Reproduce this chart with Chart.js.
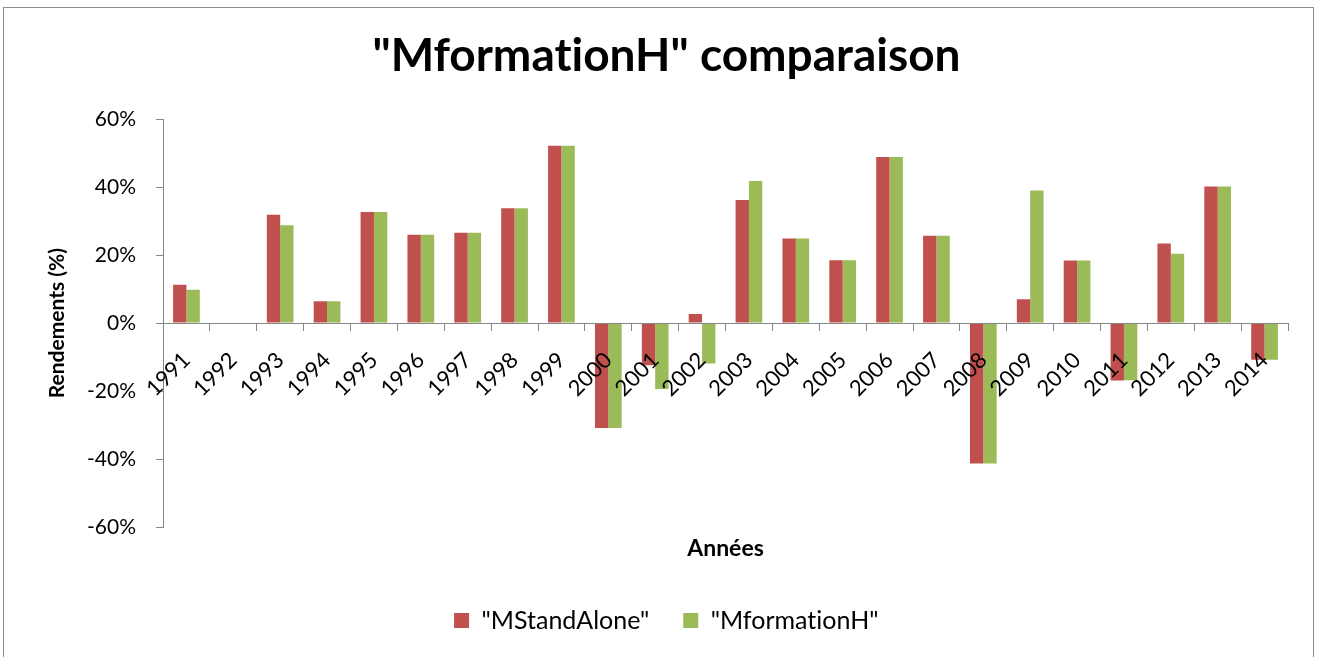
<!DOCTYPE html>
<html>
<head>
<meta charset="utf-8">
<script src="https://cdn.jsdelivr.net/npm/chart.js@4"></script>
<style>
  body { margin: 0; background: #fff; }
  #wrap { position: absolute; left: 0; top: 0; width: 1325px; height: 657px; }
  #frame { position: absolute; left: 3px; top: 7px; width: 1309px; height: 700px; border: 1px solid #8c8c8c; }
</style>
</head>
<body>
<div id="frame"></div>
<div id="wrap"><canvas id="rendementsChart"></canvas></div>
<script>
const years = ['1991', '1992', '1993', '1994', '1995', '1996', '1997', '1998', '1999', '2000', '2001', '2002',
    '2003', '2004', '2005', '2006', '2007', '2008', '2009', '2010', '2011', '2012', '2013', '2014'];
// rendements en %
const mStandAlone = [11.3, 0, 31.9, 6.4, 32.7, 26.0, 26.6, 33.8, 52.2, -30.9, -12.4, 2.7,
    36.2, 24.9, 18.5, 48.9, 25.7, -41.3, 7.0, 18.4, -16.9, 23.4, 40.2, -10.8];
const mFormationH = [9.8, 0, 28.8, 6.4, 32.7, 26.0, 26.6, 33.8, 52.2, -30.9, -19.4, -11.9,
    41.8, 24.9, 18.5, 48.9, 25.7, -41.3, 39.0, 18.4, -16.8, 20.4, 40.2, -10.8];
const yTicks = [-60, -40, -20, 0, 20, 40, 60];

const axisGray = '#868686';
const fontName = 'Lato, "Open Sans", sans-serif';

const ctx = document.getElementById('rendementsChart').getContext('2d');
const rendementsChart = new Chart(ctx, {
    type: 'bar',
    data: {
        labels: years,
        datasets: [{
            label: '"MStandAlone"',
            data: mStandAlone,
            backgroundColor: '#C0504D',
            borderWidth: 0,
            categoryPercentage: 0.57,
            barPercentage: 1.0
        }, {
            label: '"MformationH"',
            data: mFormationH,
            backgroundColor: '#9BBB59',
            borderWidth: 0,
            categoryPercentage: 0.57,
            barPercentage: 1.0
        }]
    },
    options: {
        responsive: true,
        maintainAspectRatio: false,
        animation: false,
        layout: {
            padding: { left: 45, right: 37, top: 0, bottom: 14 }
        },
        scales: {
            x: {
                axis: 'x',
                position: { y: 0 },
                grid: {
                    drawOnChartArea: false,
                    drawTicks: true,
                    tickLength: 7,
                    color: axisGray,
                    offset: true,
                    z: 1
                },
                border: { display: true, color: axisGray, width: 1, z: 1 },
                ticks: {
                    z: 1, // libellés par-dessus les barres
                    color: '#000',
                    font: { family: fontName, size: 22 },
                    minRotation: 45,
                    maxRotation: 45,
                    padding: 17,
                    autoSkip: false
                }
            },
            x2: {
                axis: 'x',
                type: 'category',
                position: 'bottom',
                grid: { display: false },
                border: { display: false },
                ticks: { display: false },
                title: {
                    display: true,
                    text: 'Années',
                    color: '#000',
                    font: { family: fontName, size: 23, weight: 'bold' },
                    padding: { top: 0, bottom: 12 }
                },
                afterFit: (scale) => { scale.height = 47; }
            },
            y: {
                min: -60,
                max: 60,
                afterBuildTicks: (scale) => {
                    scale.ticks = yTicks.map(v => ({ value: v }));
                },
                grid: {
                    drawOnChartArea: false,
                    drawTicks: true,
                    tickLength: 7,
                    color: axisGray
                },
                border: { display: true, color: axisGray, width: 1 },
                ticks: {
                    color: '#000',
                    font: { family: fontName, size: 21 },
                    padding: 20,
                    callback: (v) => v + '%'
                },
                title: {
                    display: true,
                    text: 'Rendements (%)',
                    color: '#000',
                    font: { family: fontName, size: 21, weight: 'bold' },
                    padding: 0
                },
                afterFit: (scale) => { scale.width = 118; }
            }
        },
        plugins: {
            title: {
                display: true,
                text: '"MformationH" comparaison',
                color: '#000',
                font: { family: fontName, size: 46, weight: 'bold' },
                padding: { top: 29, bottom: 35 }
            },
            legend: {
                display: true,
                position: 'bottom',
                labels: {
                    color: '#000',
                    font: { family: fontName, size: 25 },
                    boxWidth: 15,
                    boxHeight: 15,
                    padding: 34
                }
            },
            tooltip: { enabled: false }
        }
    },
    plugins: [{
        // pas de ligature "ti" de Lato
        id: 'noLigatures',
        beforeDraw: function (chart) {
            chart.ctx.textRendering = 'optimizeSpeed';
        }
    }]
});
</script>
</body>
</html>
